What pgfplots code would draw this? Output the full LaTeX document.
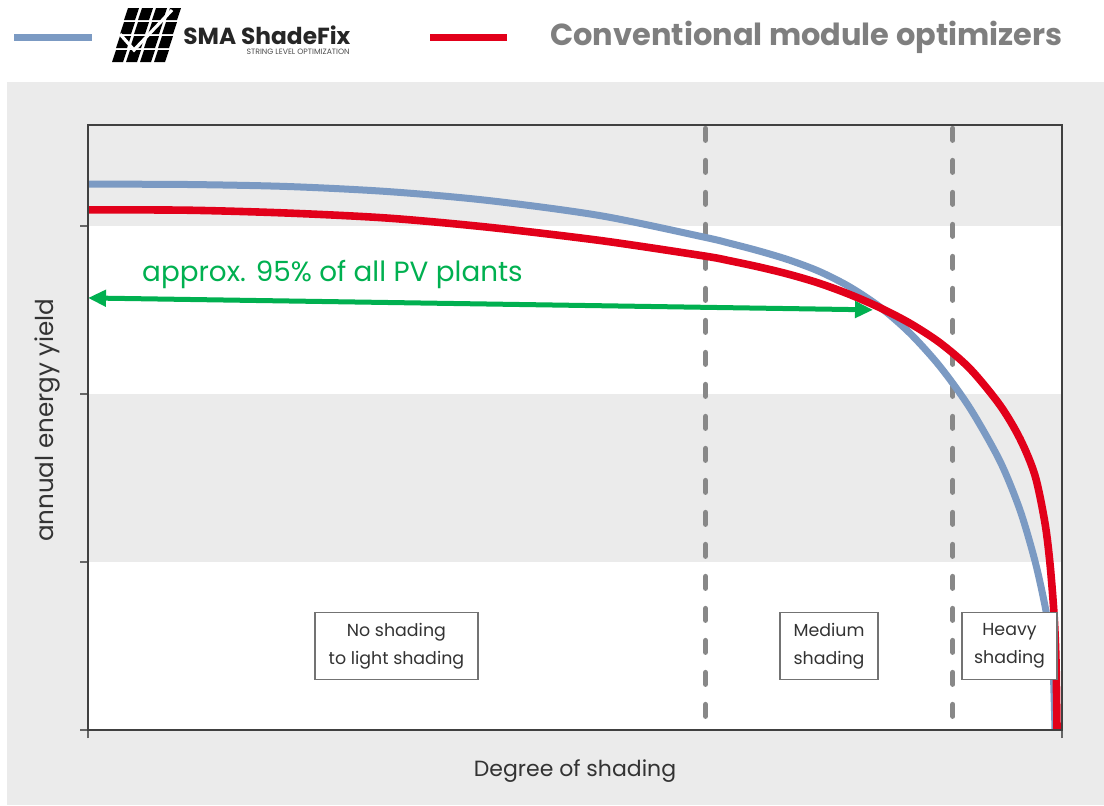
\documentclass[border=0pt]{standalone}
\usepackage{fontspec}
\setmainfont{Poppins}
\usepackage{pgfplots}
\pgfplotsset{compat=1.18}
\usetikzlibrary{arrows.meta}
\definecolor{bg}{HTML}{EBEBEB}
\definecolor{sblue}{HTML}{7B9AC3}
\definecolor{sred}{HTML}{E2001A}
\definecolor{sgreen}{HTML}{00B050}
\definecolor{dgray}{HTML}{888888}
\definecolor{lgtxt}{HTML}{7F7F7F}
\definecolor{txt}{HTML}{333333}
\begin{document}
\begin{tikzpicture}
\path[use as bounding box] (0,0) rectangle (552pt,-402.5pt);
\fill[bg] (3.5pt,-41pt) rectangle (552pt,-402.5pt);
% legend
\draw[sblue, line width=3.5pt] (7pt,-18.5pt) -- (46pt,-18.5pt);
\foreach \i in {0,...,3} {
  \foreach \j in {0,...,3} {
    \fill[black] ({56pt+\i*7pt+\j*2pt}, {-31pt+\j*7pt}) -- ++(5.5pt,0) -- ++(2pt,6pt) -- ++(-5.5pt,0) -- cycle;
  }
}
\draw[white, line width=1.6pt] (60pt,-17pt) -- (67pt,-25pt) -- (86pt,-5pt);
\node[anchor=west, inner sep=0pt, text=black!85] at (91.5pt,-17.5pt) {\resizebox{83.5pt}{!}{\bfseries SMA ShadeFix}};
\node[anchor=east, inner sep=0pt, text=black!70] at (175pt,-26pt) {\resizebox{51.5pt}{!}{STRING LEVEL OPTIMIZATION}};
\draw[sred, line width=3.5pt] (215pt,-18.5pt) -- (253.5pt,-18.5pt);
\node[anchor=west, inner sep=0pt, text=lgtxt] at (275pt,-18.5pt) {\resizebox{256pt}{!}{\bfseries Conventional module optimizers}};

\begin{axis}[
  at={(44pt,-365pt)}, anchor=south west,
  scale only axis, width=487pt, height=302.5pt,
  xmin=0, xmax=100, ymin=0, ymax=3.6,
  xtick={0,100}, ytick={0,1,2,3},
  xticklabels={}, yticklabels={},
  xtick pos=bottom, ytick pos=left,
  tick align=outside, major tick length=4pt,
  tick style={black!60, line width=0.8pt},
  axis line style={black!75, line width=0.9pt},
  axis background/.style={fill=white},
  axis on top,
  xlabel={Degree of shading},
  ylabel={annual energy yield},
  xlabel style={at={(axis description cs:0.5,0)}, anchor=center, yshift=-20.5pt, font=\fontsize{11}{13}\selectfont, text=txt},
  ylabel style={at={(axis description cs:0,0.512)}, anchor=center, yshift=20.5pt, font=\fontsize{12.3}{14}\selectfont, text=txt},
]
% bands
\addplot[fill=bg, draw=none] coordinates {(0,1) (100,1) (100,2) (0,2)} -- cycle;
\addplot[fill=bg, draw=none] coordinates {(0,3) (100,3) (100,3.6) (0,3.6)} -- cycle;
% dashed separators
\addplot[dgray, line width=2.5pt, dash pattern=on 6pt off 10pt, line cap=round] coordinates {(63.4,3.58) (63.4,0.08)};
\addplot[dgray, line width=2.5pt, dash pattern=on 6pt off 10pt, line cap=round] coordinates {(88.8,3.58) (88.8,0.08)};
% SMA ShadeFix
\addplot[sblue, line width=3.5pt, smooth, tension=0.5] coordinates {
(0,3.248) (10.27,3.246) (20.53,3.234) (30.80,3.204) (41.07,3.151) (52.57,3.061) (63.24,2.933) (65.91,2.896) (68.99,2.849) (72.07,2.795) (75.15,2.727) (78.23,2.636) (81.31,2.517) (84.39,2.361) (87.47,2.163) (90.55,1.915) (93.63,1.600) (95.69,1.308) (97.23,1.005) (98.25,0.740) (98.77,0.560) (99.08,0.381) (99.28,0)};
% conventional
\addplot[sred, line width=3.8pt, smooth, tension=0.5] coordinates {
(0,3.095) (10.27,3.093) (20.53,3.076) (30.80,3.046) (41.07,2.992) (52.57,2.913) (63.24,2.821) (65.91,2.792) (68.99,2.754) (72.07,2.710) (75.15,2.657) (78.23,2.591) (81.31,2.513) (84.39,2.420) (87.47,2.304) (90.55,2.150) (93.63,1.933) (95.69,1.733) (97.23,1.514) (98.25,1.232) (98.77,0.988) (99.18,0.690) (99.38,0.417) (99.49,0)};
% arrow
\addplot[sgreen, line width=2.5pt, {Triangle[length=9pt,width=8pt]}-{Triangle[length=9pt,width=8pt]}] coordinates {(0,2.571) (80.6,2.50)};
\node[text=sgreen, font=\fontsize{13.9}{16}\selectfont] at (axis cs:25.1,2.708) {approx. 95\% of all PV plants};
% boxes
\node[draw=black!55, line width=0.6pt, fill=white, minimum width=81.5pt, minimum height=33.5pt, align=center, text=txt, font=\fontsize{8.7}{14}\selectfont, inner sep=0pt] at (axis cs:31.67,0.5) {No shading\\to light shading};
\node[draw=black!55, line width=0.6pt, fill=white, minimum width=49pt, minimum height=33.5pt, align=center, text=txt, font=\fontsize{8.7}{14}\selectfont, inner sep=0pt] at (axis cs:76.08,0.5) {Medium\\shading};
\node[draw=black!55, line width=0.6pt, fill=white, minimum width=47.5pt, minimum height=33.5pt, align=center, text=txt, font=\fontsize{8.7}{14}\selectfont, inner sep=0pt] at (axis cs:94.61,0.5) {Heavy\\shading};
\end{axis}
\end{tikzpicture}
\end{document}
